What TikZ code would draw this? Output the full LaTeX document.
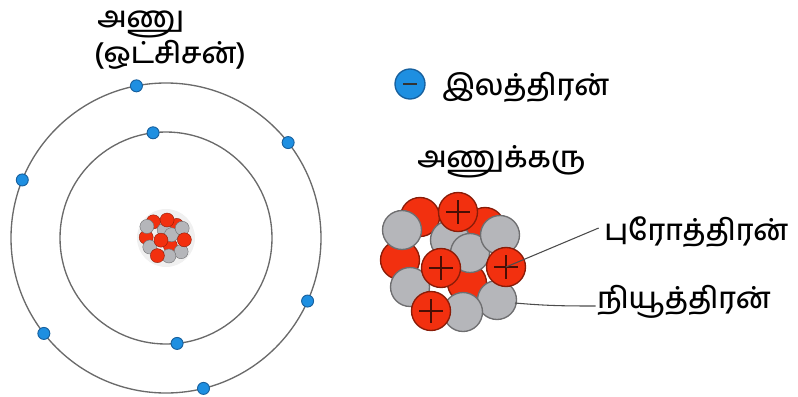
\documentclass[tikz,border=0pt]{standalone}
\usepackage{fontspec}
\newfontfamily\tamil[Script=Tamil, UprightFont={* Medium}]{Hind Madurai}

\definecolor{protred}{HTML}{F2300F}
\definecolor{protedge}{HTML}{8A1C08}
\definecolor{plusdark}{HTML}{4A0E04}
\definecolor{neutgray}{HTML}{B5B6BA}
\definecolor{neutedge}{HTML}{6E6E70}
\definecolor{elecblue}{HTML}{1E8FE1}
\definecolor{elecedge}{HTML}{17609E}
\definecolor{orbitgray}{HTML}{6A6A6A}

\tikzset{
  proton/.style={draw=protedge, fill=protred},
  neutron/.style={draw=neutedge, fill=neutgray},
  electron/.style={circle, draw=elecedge, fill=elecblue, line width=0.7pt,
    minimum size=9pt, inner sep=0pt},
  orbit/.style={draw=orbitgray, line width=1pt},
  lbl/.style={anchor=west, inner sep=0pt, font=\tamil\fontsize{22}{26}\selectfont},
  leader/.style={draw=black!70, line width=0.8pt},
  plus/.style={draw=plusdark},
}

% one nucleus around (0,0); #1 prefixes the named points
\newcommand{\nucleusparts}[1]{%
  % particles at the back
  \foreach \x/\y in {-35/-45, 30/-35, -55/-2, 12/21}
    \draw[proton] (\x,\y) circle (19.5);
  \foreach \x/\y in {-5/-22, 15/-9, -53/-32, 45/-27, -45/25, 42/38, 8/50}
    \draw[neutron] (\x,\y) circle (19.5);
  % protons in front, with their plus signs
  \foreach \x/\y in {3/-50, -14/6, 51/5, -24/49} {
    \draw[proton] (\x,\y) circle (19.5);
    \path[plus] (\x-12,\y) -- (\x+12,\y) (\x,\y-12) -- (\x,\y+12);
  }
  \coordinate (#1-p) at (51,5);
  \coordinate (#1-n) at (60,41);
}

\begin{document}
\begin{tikzpicture}[x=0.75pt, y=-0.75pt]
  \useasboundingbox (0,0) rectangle (798,396);

  % atom: orbits and electrons
  \begin{scope}[shift={(166,238)}]
    \draw[orbit] (0,0) circle (155);
    \draw[orbit] (0,0) circle (106);
    \fill[black!6] (0,0) circle (29);
    \foreach \a [count=\i] in {-101,-38,-158,24,142,76}
      \node[electron] (eo\i) at (\a:155) {};
    \foreach \a [count=\i] in {-97,84}
      \node[electron] (ei\i) at (\a:106) {};
  \end{scope}
  \begin{scope}[shift={(166,238)}, scale=0.36, line width=0.3pt,
      plus/.style={draw=none}]
    \nucleusparts{small}
  \end{scope}

  \node[lbl] (atomlbl) at (97,24) {அணு};
  \node[lbl] (oxylbl) at (94,55) {(ஒட்சிசன்)};

  % legend
  \node[electron, minimum size=22.5pt, line width=1pt] (elec) at (410,84) {};
  \draw[black!80, line width=1.5pt] ([xshift=-5pt]elec.center) -- ([xshift=5pt]elec.center);
  \node[lbl] (eleclbl) at (442,87) {இலத்திரன்};

  % enlarged nucleus
  \node[lbl] (nuclbl) at (417,162) {அணுக்கரு};
  \begin{scope}[shift={(455,262)}, line width=1pt]
    \nucleusparts{big}
  \end{scope}

  \node[lbl] (protlbl) at (604,232) {புரோத்திரன்};
  \node[lbl] (neutlbl) at (597,302) {நியூத்திரன்};
  \draw[leader] (big-p) -- ([xshift=-4pt,yshift=3pt]protlbl.west);
  \draw[leader] (big-n) to[out=-5, in=180] ([xshift=-1pt,yshift=-3pt]neutlbl.west);
\end{tikzpicture}
\end{document}
